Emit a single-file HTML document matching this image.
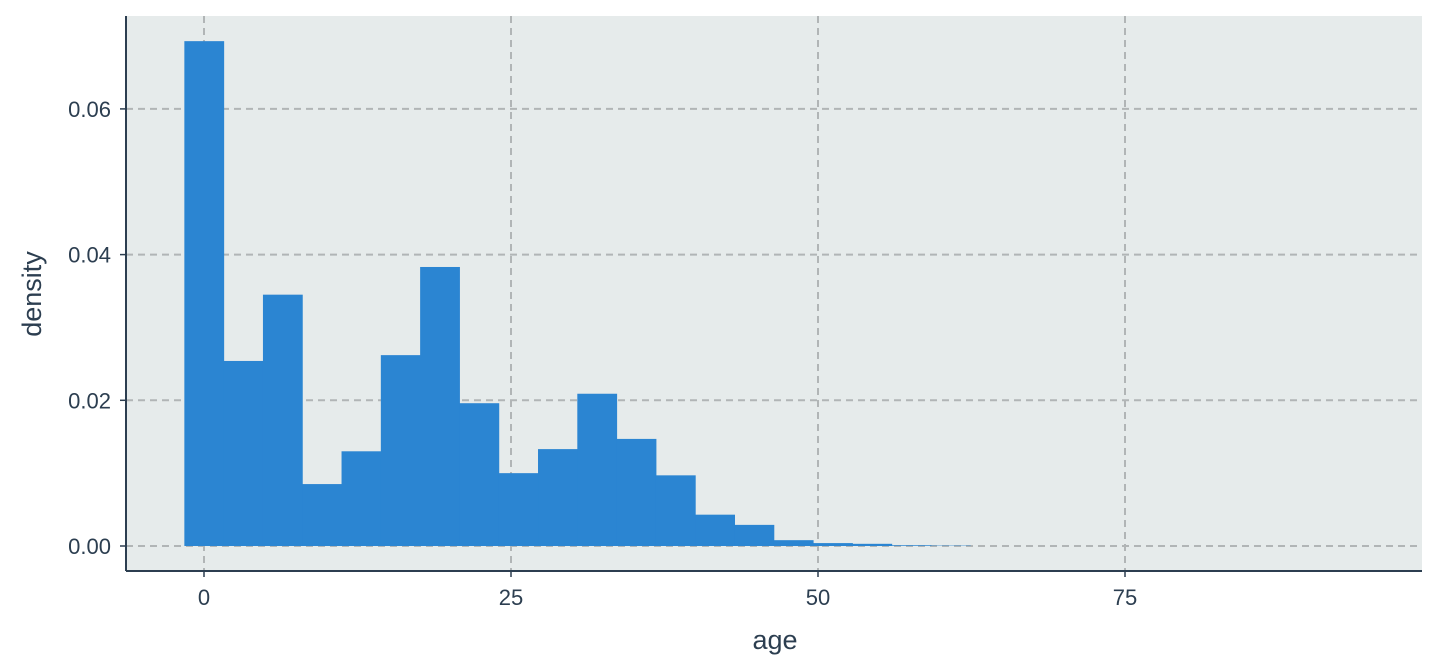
<!DOCTYPE html>
<html><head><meta charset="utf-8"><style>
body{margin:0;background:#fff;}
svg{display:block;font-family:"Liberation Sans",sans-serif;}
</style></head><body>
<svg id="chart" width="1440" height="672">
<rect x="126" y="16" width="1296" height="555" fill="#e6ebeb"/>
<g id="grid"></g><g id="bars"></g><g id="axes"></g>
<text x="775" y="649" font-size="27" fill="#2c3e50" text-anchor="middle">age</text>
<text transform="translate(41,294) rotate(-90)" font-size="27" fill="#2c3e50" text-anchor="middle">density</text>
</svg>
<script>
const binStart = -1.6;
const binWidth = 3.2;
const densities = [0.0693,0.0254,0.0345,0.0085,0.0130,0.0262,0.0383,0.0196,0.0100,0.0133,0.0209,0.0147,0.0097,0.0043,0.0029,0.0008,0.0004,0.0003,0.0001,0.00005,0,0,0,0,0,0,0,0,0,0];
const xTicks = [0,25,50,75];
const yTicks = [0,0.02,0.04,0.06];
const yTickLabels = ["0.00","0.02","0.04","0.06"];
const NS="http://www.w3.org/2000/svg";
function xs(v){return 204+v*(307/25);}
function ys(v){return 546-v*7285;}
function mk(tag,attrs,parent){const e=document.createElementNS(NS,tag);for(const k in attrs)e.setAttribute(k,attrs[k]);document.getElementById(parent).appendChild(e);return e;}
xTicks.forEach(t=>{
  const l=mk('line',{x1:xs(t),x2:xs(t),y1:16,y2:571,stroke:'#b1b5b6','stroke-width':2,'stroke-dasharray':'7,5'},'grid');
  
  
  const tk=mk('line',{x1:xs(t),x2:xs(t),y1:571,y2:577,stroke:'#2c3e50','stroke-width':1.5},'axes');
  
  
  const tx=mk('text',{x:xs(t),y:605,'font-size':22,fill:'#2c3e50','text-anchor':'middle'},'axes');
  tx.textContent=t;
  
  
});
yTicks.forEach((t,i)=>{
  const l=mk('line',{x1:126,x2:1422,y1:ys(t),y2:ys(t),stroke:'#b1b5b6','stroke-width':2,'stroke-dasharray':'7,5'},'grid');
  
  
  const tk=mk('line',{x1:120,x2:126,y1:ys(t),y2:ys(t),stroke:'#2c3e50','stroke-width':1.5},'axes');
  
  
  const tx=mk('text',{x:111,y:ys(t)+8,'font-size':22,fill:'#2c3e50','text-anchor':'end'},'axes');
  tx.textContent=yTickLabels[i];
  
  
});
densities.forEach((d,i)=>{
  if(d<=0)return;
  const x0=xs(binStart+i*binWidth),x1=xs(binStart+(i+1)*binWidth);
  const r=mk('rect',{x:x0,y:ys(d),width:x1-x0+0.5,height:ys(0)-ys(d),fill:'#2b85d2'},'bars');
  
  
});
const ax=mk('line',{x1:126,x2:1422,y1:571,y2:571,stroke:'#2c3e50','stroke-width':2},'axes');


const ay=mk('line',{x1:126,x2:126,y1:16,y2:571,stroke:'#2c3e50','stroke-width':2},'axes');


</script>
</body></html>
